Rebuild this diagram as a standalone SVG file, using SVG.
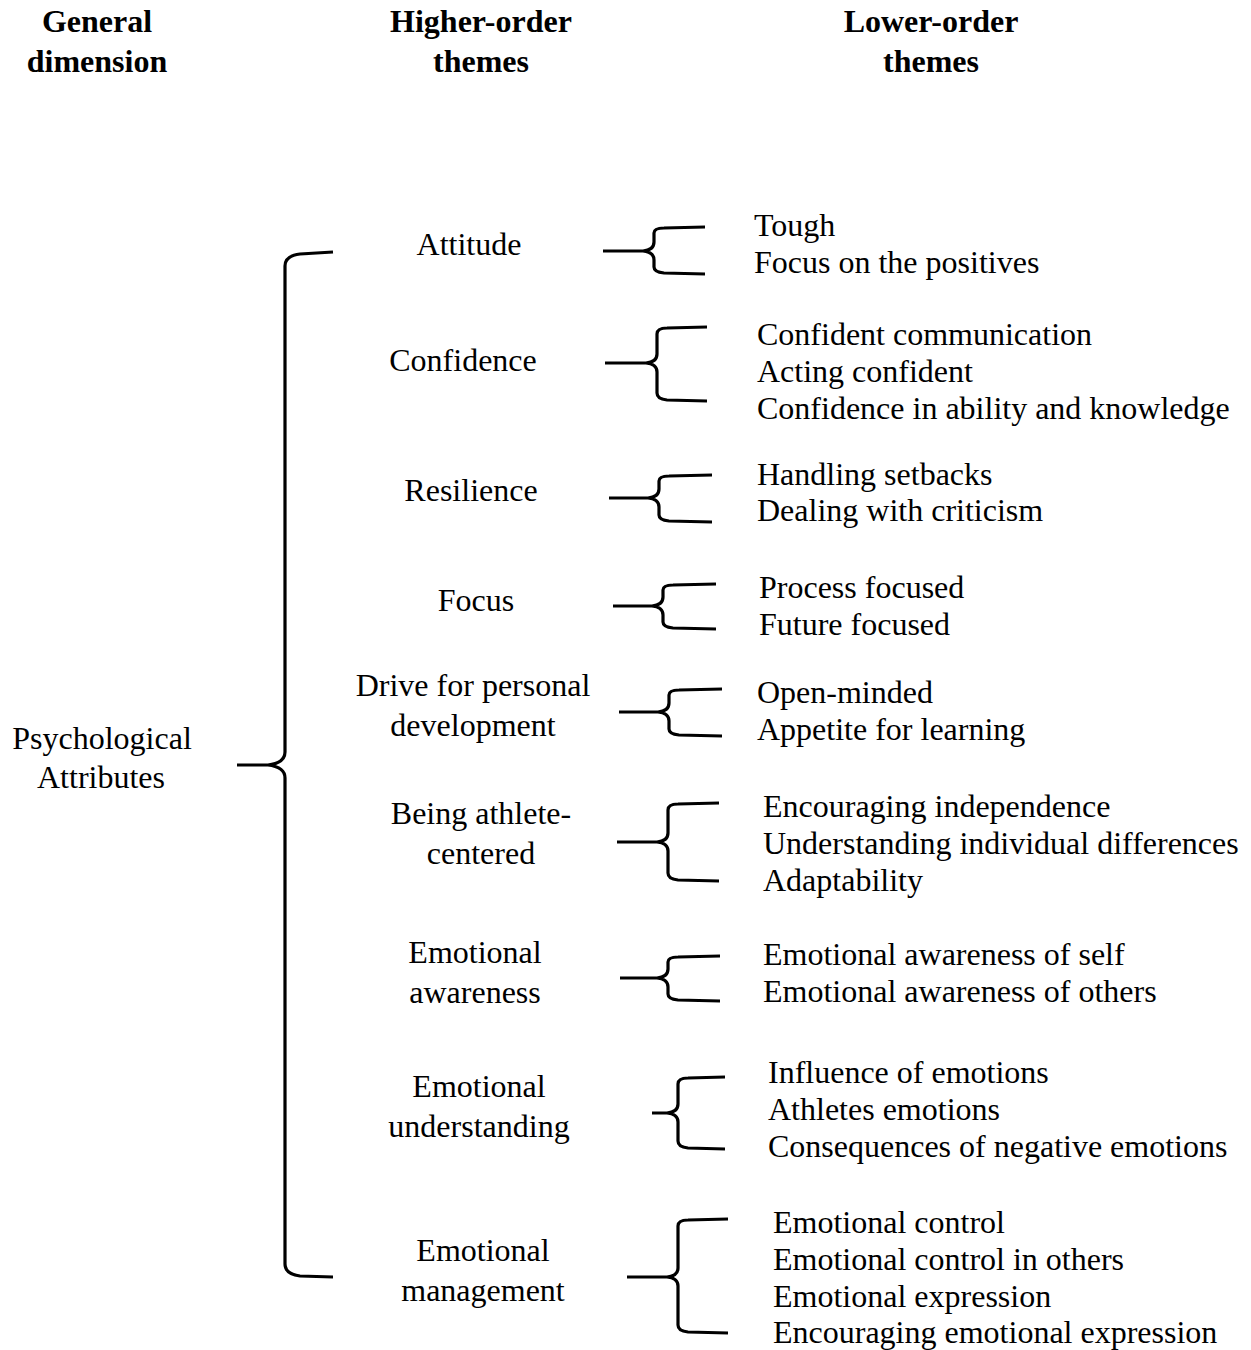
<svg xmlns="http://www.w3.org/2000/svg" width="1251" height="1350" viewBox="0 0 1251 1350">
  <style>
    text { font-family: "Liberation Serif", "Times New Roman", serif; font-size: 32px; fill: #000; }
    .head { font-weight: bold; text-anchor: middle; }
    .mid { text-anchor: middle; }
    .brace { fill: none; stroke: #000; stroke-width: 3.2; stroke-linecap: butt; stroke-linejoin: round; }
  </style>
  <rect width="1251" height="1350" fill="#fff"/>

  <!-- Column headings -->
  <g id="headings">
    <text class="head" x="97" y="32">General</text>
    <text class="head" x="97" y="72">dimension</text>
    <text class="head" x="481" y="32">Higher-order</text>
    <text class="head" x="481" y="72">themes</text>
    <text class="head" x="931" y="32">Lower-order</text>
    <text class="head" x="931" y="72">themes</text>
  </g>

  <!-- Connectors: curly braces -->
  <g id="connectors">
    <!-- main brace from the general dimension -->
    <path class="brace" d="M333 252 L300 254 Q285 256 285 266 L285 752 Q285 763 268 765 L237 765 M268 765 Q285 767 285 778 L285 1264 Q285 1274 300 1276 L333 1277"/>
    <!-- Attitude -->
    <path class="brace" d="M603 251 L643 251 Q654 250 654 242 L654 233 Q654 228 664 228 L705 227 M643 251 Q654 252 654 260 L654 267 Q654 272 664 273 L705 274"/>
    <!-- Confidence -->
    <path class="brace" d="M605 363 L646 363 Q657 362 657 354 L657 334 Q657 328 667 328 L707 327 M646 363 Q657 364 657 372 L657 393 Q657 399 667 400 L707 401"/>
    <!-- Resilience -->
    <path class="brace" d="M609 498 L648 498 Q659 497 659 489 L659 481 Q659 476 669 476 L712 475 M648 498 Q659 499 659 507 L659 515 Q659 520 669 521 L712 522"/>
    <!-- Focus -->
    <path class="brace" d="M613 606 L652 606 Q663 605 663 597 L663 590 Q663 585 673 585 L716 584 M652 606 Q663 607 663 615 L663 622 Q663 627 673 628 L716 629"/>
    <!-- Drive for personal development -->
    <path class="brace" d="M619 712 L658 712 Q669 711 669 703 L669 695 Q669 690 679 690 L722 689 M658 712 Q669 713 669 721 L669 729 Q669 734 679 735 L722 736"/>
    <!-- Being athlete-centered -->
    <path class="brace" d="M617 842 L657 842 Q668 841 668 833 L668 810 Q668 804 678 804 L719 803 M657 842 Q668 843 668 851 L668 873 Q668 879 678 880 L719 881"/>
    <!-- Emotional awareness -->
    <path class="brace" d="M620 978 L657 978 Q668 977 668 969 L668 962 Q668 957 678 957 L720 956 M657 978 Q668 979 668 987 L668 994 Q668 999 678 1000 L720 1001"/>
    <!-- Emotional understanding -->
    <path class="brace" d="M652 1113 L667 1113 Q678 1112 678 1104 L678 1084 Q678 1078 688 1078 L725 1077 M667 1113 Q678 1114 678 1122 L678 1141 Q678 1147 688 1148 L725 1149"/>
    <!-- Emotional management -->
    <path class="brace" d="M627 1277 L667 1277 Q678 1276 678 1268 L678 1226 Q678 1220 688 1220 L728 1219 M667 1277 Q678 1278 678 1286 L678 1325 Q678 1331 688 1332 L728 1333"/>
  </g>

  <!-- General dimension -->
  <g id="psychological-attributes">
    <text class="mid" x="102" y="749">Psychological</text>
    <text class="mid" x="101" y="788">Attributes</text>
  </g>

  <!-- Higher-order themes -->
  <g id="attitude"><text class="mid" x="469" y="255">Attitude</text></g>
  <g id="confidence"><text class="mid" x="463" y="371">Confidence</text></g>
  <g id="resilience"><text class="mid" x="471" y="501">Resilience</text></g>
  <g id="focus"><text class="mid" x="476" y="611">Focus</text></g>
  <g id="drive">
    <text class="mid" x="473" y="696">Drive for personal</text>
    <text class="mid" x="473" y="736">development</text>
  </g>
  <g id="athlete-centered">
    <text class="mid" x="481" y="824">Being athlete-</text>
    <text class="mid" x="481" y="864">centered</text>
  </g>
  <g id="emotional-awareness">
    <text class="mid" x="475" y="963">Emotional</text>
    <text class="mid" x="475" y="1003">awareness</text>
  </g>
  <g id="emotional-understanding">
    <text class="mid" x="479" y="1097">Emotional</text>
    <text class="mid" x="479" y="1137">understanding</text>
  </g>
  <g id="emotional-management">
    <text class="mid" x="483" y="1261">Emotional</text>
    <text class="mid" x="483" y="1301">management</text>
  </g>

  <!-- Lower-order themes -->
  <g id="attitude-themes">
    <text x="754" y="236">Tough</text>
    <text x="754" y="273">Focus on the positives</text>
  </g>
  <g id="confidence-themes">
    <text x="757" y="345">Confident communication</text>
    <text x="757" y="382">Acting confident</text>
    <text x="757" y="419">Confidence in ability and knowledge</text>
  </g>
  <g id="resilience-themes">
    <text x="757" y="485">Handling setbacks</text>
    <text x="757" y="521">Dealing with criticism</text>
  </g>
  <g id="focus-themes">
    <text x="759" y="598">Process focused</text>
    <text x="759" y="635">Future focused</text>
  </g>
  <g id="drive-themes">
    <text x="757" y="703">Open-minded</text>
    <text x="757" y="740">Appetite for learning</text>
  </g>
  <g id="athlete-centered-themes">
    <text x="763" y="817">Encouraging independence</text>
    <text x="763" y="854">Understanding individual differences</text>
    <text x="763" y="891">Adaptability</text>
  </g>
  <g id="emotional-awareness-themes">
    <text x="763" y="965">Emotional awareness of self</text>
    <text x="763" y="1002">Emotional awareness of others</text>
  </g>
  <g id="emotional-understanding-themes">
    <text x="768" y="1083">Influence of emotions</text>
    <text x="768" y="1120">Athletes emotions</text>
    <text x="768" y="1157">Consequences of negative emotions</text>
  </g>
  <g id="emotional-management-themes">
    <text x="773" y="1233">Emotional control</text>
    <text x="773" y="1270">Emotional control in others</text>
    <text x="773" y="1307">Emotional expression</text>
    <text x="773" y="1343">Encouraging emotional expression</text>
  </g>
</svg>
